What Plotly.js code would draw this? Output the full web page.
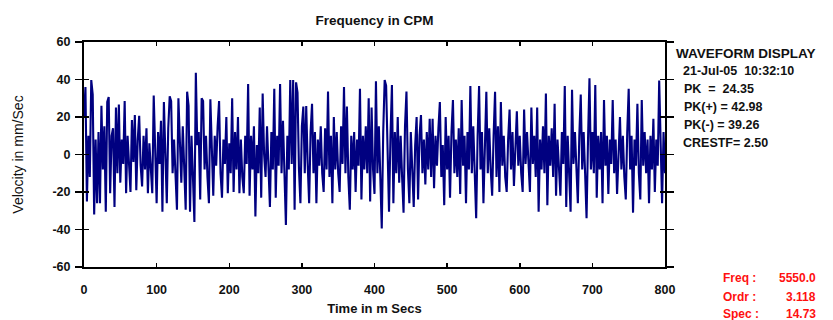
<!DOCTYPE html>
<html>
<head>
<meta charset="utf-8">
<script src="https://cdn.plot.ly/plotly-3.0.1.min.js"></script>
<style>html,body{margin:0;padding:0;background:#fff;}#chart{width:833px;height:320px;}</style>
</head>
<body>
<div id="chart"></div>
<script>
// Sampled velocity waveform (mm/Sec), one sample every 2 ms from 0 to 800 ms
const sampleIntervalMs = 2;
const velocity = [
 20, 36,-25, 10,-12, 39.7, 32,-32,  8,-26, 12,-26, 26, -8, 15,-30.5, 28, 30.6,-20.6, 10,
 14,-28, 25,-10, 26.7,-15,  8, -5, 28.5,-20.6, 10, -8,-20, 18.4, -4, 21,-19,  8, 20.6, -6,
-17, 10, -8, 14,-20.6,  6,-10,-20.6, 31.4,  0,-26, 12, -5, 18,-30.5, 28, -6,-26, 14, 31,
 28.5,-10,  8,-12,-29.5, 30,  5,-15, 15,-10,-29.5, 33.5, 26,-30.5, 10,-12,-36, 43.6,  5, 12,
-24, 30, 28.5, -8, 10,-12,-26, 29.5,  2,-22, 10, -6, 15, 28.5,-10,-23,  8, -5, 20,-20.6,
  6,-10, 30,-20, 12, -8, 20,-20.6,  8,-12,-20.6, 10, -5, 37.6,-22, 10, -8, 15,-33,  5,
-10, 25,-23, 32.5,  0,-12, 15,-10,-28, 12, -8, 35,-23, 10, -6, 37.6,-10, 18,-12,-37.6,
 10, -8, 39.7, -5, 39.7,-29.5, 38.5, 33, -8,-26, 15, 25.6,-10, 25.8, -5,-26, 12, 27,-10, 12,
-26,  8, -6, 15,-10,-20, 14, -8, 33.6,-12, 10,-26, 20, -8, 12,-10,-20, 15, -5, 36,
-10, 25.6,-12,-29.5, 10, -8, 12,-20,  8, -6, 35,-24, 10, -8, 15,-10, 30,-25, 25, -8,
-21, 39,-10, 15,-12,-39.4, 12, 39.7, 36.7, -8,-30.5, 10, 37,-26, 12,-10, 20,-15, 10,-12,
-31, 15, 33.6, -8,-26, 12,-10,-28,  5, 20,-24, 10, 21,-10,  8,-16, 12, -8, 19,-12,
 19,-18, 10, -6, 14, 28,-12,  5,-27, 20, -8, 10,-23, 12, 29,-10,  8,-12, 14,-21,
 29, -6, 10,-26, 12, -8, 36.5,-10, 15,-12,-34, 10, 36.5, -8, 12,-26,  8, 33.5,-10, 14,
 -8,-22, 10, 33.5,-12, 15,-20, 28, -6, 10,-12,-20,  8, 24, -8, 12,-16.8,  6, 23, -6,
 10,-10,-20, 24, -5, 12, -8,-20, 25, -5, 10,-12, 25,-30.5,  8, -8, 15,-10, 32.5,-27,
 10, -6, 14,-12, 27,-22,  8, -6,-22, 12, -5, 36.5,-28, 10, -8,-30.5, 34.5, -5, 12,-10,
-26, 10, 32, -8, 12,-10,-34,  8, 40.6, -8, 12,-10, 37,-23, 10, -8, 12,-26, 29, -6,
 10,-21,  8, -5, 29,-10,  8,-21,  6, 20, -8, 10,-12,-24, 12, 35, -8, 10,-31,  8,
 -6, 27,-10,-24, 29, -6, 12,-10,  8,-26, 10, -8, 19,-20,  8, -6, 39.4,  5,-26, 12,
-10
];
const timeMs = velocity.map((_, i) => i * sampleIntervalMs);

const xTicks = [0, 100, 200, 300, 400, 500, 600, 700, 800];
const yTicks = [-60, -40, -20, 0, 20, 40, 60];

const infoLines = ["WAVEFORM DISPLAY", "21-Jul-05  10:32:10", "PK  =  24.35", "PK(+) = 42.98", "PK(-) = 39.26", "CRESTF= 2.50"];
const redLabels = ["Freq :", "Ordr :", "Spec :"];
const redValues = ["5550.0", "3.118", "14.73"];

const FONT = "Liberation Sans, Arial, sans-serif";

const trace = {
  x: timeMs, y: velocity, type: 'scatter', mode: 'lines',
  line: {color: '#000080', width: 2.1},
  hoverinfo: 'skip'
};
// invisible trace to activate the overlay axis for inner ticks
const trace2 = {x: [0], y: [0], xaxis: 'x2', yaxis: 'y2', mode: 'markers', marker: {opacity: 0}, hoverinfo: 'skip'};

const annotations = [];
const infoY = [0.951, 0.871, 0.791, 0.711, 0.631, 0.551];
const infoX = [1.015, 1.027, 1.029, 1.029, 1.029, 1.027];
infoLines.forEach((t, i) => annotations.push({
  text: t, xref: 'paper', yref: 'paper', x: infoX[i], y: infoY[i],
  xanchor: 'left', yanchor: 'middle', showarrow: false,
  font: {family: FONT, size: i === 0 ? 13.5 : 12.5, color: '#111', weight: 'bold'}
}));
const redY = [-0.049, -0.133, -0.207];
redLabels.forEach((t, i) => {
  annotations.push({text: t, xref: 'paper', yref: 'paper', x: 1.096, y: redY[i],
    xanchor: 'left', yanchor: 'middle', showarrow: false,
    font: {family: FONT, size: 12, color: '#ff1010', weight: 'bold'}});
  annotations.push({text: redValues[i], xref: 'paper', yref: 'paper', x: 1.263, y: redY[i],
    xanchor: 'right', yanchor: 'middle', showarrow: false,
    font: {family: FONT, size: 12, color: '#ff1010', weight: 'bold'}});
});

const axisCommon = {
  showgrid: false, zeroline: false, showline: true, linecolor: '#000', linewidth: 2,
  tickcolor: '#000', tickwidth: 1.5, mirror: 'ticks'
};

const layout = {
  width: 833, height: 320,
  margin: {l: 84, r: 168, t: 42, b: 53},
  paper_bgcolor: '#fff', plot_bgcolor: '#fff',
  showlegend: false,
  font: {family: FONT, size: 11, color: '#111'},
  title: {text: 'Frequency in CPM', x: 0.5, xref: 'paper', xanchor: 'center',
          y: 0.936, yref: 'container', yanchor: 'middle',
          font: {family: FONT, size: 13.5, color: '#111', weight: 'bold'}},
  xaxis: Object.assign({}, axisCommon, {
    range: [0, 800], tickvals: xTicks, ticktext: xTicks.map(String),
    ticks: 'inside', ticklen: 4, ticklabelstandoff: 10,
    tickfont: {family: FONT, size: 12.5, color: '#111', weight: 'bold'},
    title: {text: 'Time in m Secs', standoff: 8, font: {family: FONT, size: 13, color: '#111', weight: 'bold'}}
  }),
  yaxis: Object.assign({}, axisCommon, {
    range: [-60, 60], tickvals: yTicks, ticktext: yTicks.map(String),
    ticks: 'outside', ticklen: 7, ticklabelstandoff: 2,
    tickfont: {family: FONT, size: 12.5, color: '#111', weight: 'bold'},
    title: {text: 'Velocity in mm/Sec', standoff: 26, font: {family: FONT, size: 14, color: '#111'}}
  }),
  xaxis2: {overlaying: 'x', range: [0, 800], visible: false},
  yaxis2: {overlaying: 'y', range: [-60, 60], tickvals: yTicks, ticks: 'inside', ticklen: 5,
           tickcolor: '#000', tickwidth: 1.5, showticklabels: false, showgrid: false,
           zeroline: false, showline: false, mirror: 'ticks'},
  annotations: annotations
};

Plotly.newPlot('chart', [trace, trace2], layout, {staticPlot: true, displayModeBar: false});
</script>
</body>
</html>
